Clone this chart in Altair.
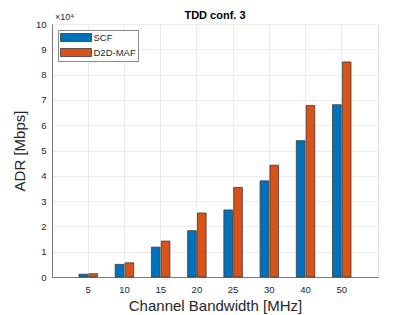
import altair as alt
import pandas as pd

bandwidths = ["5", "10", "15", "20", "25", "30", "40", "50"]
scf = [1100, 5000, 11800, 18300, 26500, 38000, 53900, 68100]
d2d = [1300, 5600, 14200, 25300, 35400, 44200, 67800, 85000]
series = ["SCF", "D2D-MAF"]
colors = ["#0072BD", "#D95319"]

rows = []
for i, b in enumerate(bandwidths):
    rows.append({"bw": b, "series": "SCF", "adr": scf[i]})
    rows.append({"bw": b, "series": "D2D-MAF", "adr": d2d[i]})
df = pd.DataFrame(rows)

FONT = "Liberation Sans"
TXT = "#262626"
AX = "#7a7a7a"
GRID = "#ebebeb"

xscale = alt.Scale(domain=bandwidths, paddingInner=0.49, paddingOuter=0.745)
yscale = alt.Scale(domain=[0, 100000], nice=False)

bars = alt.Chart(df).mark_bar(stroke="#3a3a3a", strokeWidth=0.8).encode(
    x=alt.X("bw:N", sort=bandwidths, scale=xscale,
            axis=alt.Axis(title="Channel Bandwidth [MHz]", labelAngle=0, ticks=False,
                          grid=True, gridColor=GRID, bandPosition=0.5,
                          domainColor=AX, labelColor=TXT, labelFontSize=9.5,
                          labelFont=FONT, titleFont=FONT, titleFontSize=15,
                          titleFontWeight="normal", titleColor=TXT, labelPadding=7,
                          titlePadding=5)),
    xOffset=alt.XOffset("series:N", sort=series, scale=alt.Scale(paddingInner=0.12)),
    y=alt.Y("adr:Q", scale=yscale,
            axis=alt.Axis(title="ADR [Mbps]", values=list(range(0, 100001, 10000)),
                          labelExpr="datum.value/10000", ticks=False, grid=True,
                          gridColor=GRID, domainColor=AX, labelColor=TXT,
                          labelFontSize=9.5, labelFont=FONT, titleFont=FONT,
                          titleFontSize=15, titleFontWeight="normal", titleColor=TXT,
                          labelPadding=6, titlePadding=8)),
    color=alt.Color("series:N", sort=series,
                    scale=alt.Scale(domain=series, range=colors),
                    legend=alt.Legend(title=None, orient="top-left", offset=6,
                                      symbolType="M-3.1,-0.8H3.1V0.8H-3.1Z",
                                      symbolSize=100, symbolStrokeColor="#3a3a3a",
                                      symbolStrokeWidth=0.8, symbolOpacity=1,
                                      symbolOffset=10.5, labelOffset=12,
                                      labelFont=FONT, labelFontSize=9.5,
                                      labelColor=TXT, strokeColor="#8a8a8a",
                                      fillColor="white", padding=2,
                                      rowPadding=2)),
)

exp = alt.Chart(pd.DataFrame({"t": ["×10⁴"]})).mark_text(
    align="left", baseline="alphabetic", font=FONT, fontSize=9, color=TXT
).encode(x=alt.value(3), y=alt.value(-4), text="t:N")

ttl = alt.Chart(pd.DataFrame({"t": ["TDD conf. 3"]})).mark_text(
    align="center", baseline="alphabetic", font=FONT, fontSize=11,
    fontWeight="bold", color="#000000"
).encode(x=alt.value(163), y=alt.value(-5), text="t:N")

chart = alt.layer(bars, exp, ttl).properties(
    width=326, height=253,
    padding={"left": 4, "top": 2, "right": 5, "bottom": 0},
).configure_view(stroke=AX, strokeWidth=1).configure(background="white")

chart.save("out.html", embed_options={"renderer": "svg", "actions": False})
